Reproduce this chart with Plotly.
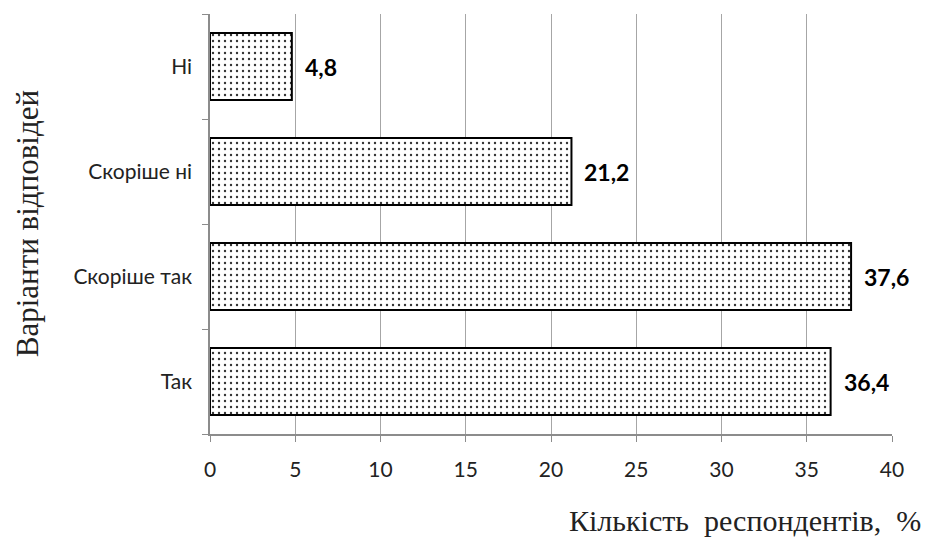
import plotly.graph_objects as go

# Survey answers (bottom to top) and share of respondents, %
categories = ["Так", "Скоріше так", "Скоріше ні", "Ні"]
values = [36.4, 37.6, 21.2, 4.8]
x_ticks = [0, 5, 10, 15, 20, 25, 30, 35, 40]

labels = [f"{v:.1f}".replace(".", ",") for v in values]

SANS = "Lato, Open Sans, sans-serif"
SERIF = "Liberation Serif, Times New Roman, serif"

fig = go.Figure()
fig.add_trace(go.Bar(
    y=categories,
    x=values,
    orientation="h",
    width=0.64,
    marker=dict(
        color="white",
        line=dict(color="black", width=2),
        pattern=dict(shape=".", fgcolor="#333", bgcolor="white",
                     size=6, solidity=0.12, fillmode="replace"),
    ),
    hoverinfo="skip",
))

# bold value labels just right of each bar end
for cat, v, lab in zip(categories, values, labels):
    fig.add_annotation(
        x=v, y=cat, text=f"<b>{lab}</b>", showarrow=False,
        xanchor="left", xshift=11,
        font=dict(family=SANS, size=23, color="black"),
    )

fig.update_layout(
    width=928, height=538,
    margin=dict(l=210, r=36, t=14, b=104),
    paper_bgcolor="white", plot_bgcolor="white",
    showlegend=False,
    separators=", ",
    font=dict(family=SANS, size=20.5, color="#222"),
    xaxis=dict(
        range=[0, 40], tickvals=x_ticks, showgrid=True, gridcolor="#a6a6a6",
        gridwidth=1, zeroline=False, showline=True, linecolor="#8c8c8c",
        linewidth=1.5, ticks="outside", ticklen=6, tickcolor="#8c8c8c",
        tickfont=dict(size=21), ticklabelstandoff=10, fixedrange=True,
    ),
    yaxis=dict(
        categoryorder="array", categoryarray=categories,
        range=[-0.5, 3.5], showline=True, linecolor="#8c8c8c", linewidth=1.5,
        ticks="outside", tickson="boundaries", ticklen=6, tickcolor="#8c8c8c",
        showgrid=False, tickfont=dict(size=21), ticklabelstandoff=12,
        fixedrange=True,
    ),
)

# axis titles
fig.add_annotation(
    xref="paper", yref="paper", x=-0.268, y=0.5,
    xanchor="center", yanchor="middle", textangle=-90, showarrow=False,
    text="Варіанти відповідей",
    font=dict(family=SERIF, size=31, color="#222"),
)
fig.add_annotation(
    xref="paper", yref="paper", x=1.045, y=-0.205,
    xanchor="right", yanchor="middle", showarrow=False,
    text="Кількість  респондентів,  %",
    font=dict(family=SERIF, size=30, color="#222"),
)

fig.write_html("out.html")
